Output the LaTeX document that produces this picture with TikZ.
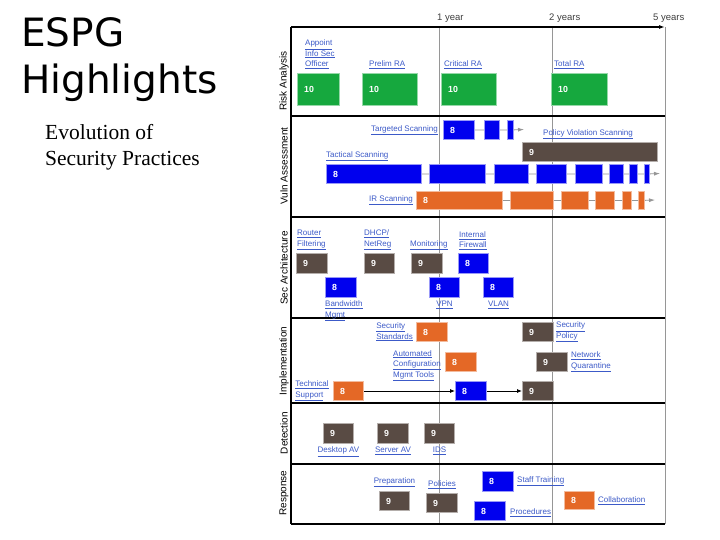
\documentclass[tikz,border=0pt]{standalone}
\usepackage{fontspec}
\setmainfont{Liberation Sans}
\newfontfamily\subfont{Liberation Serif}
\newfontfamily\titlefont{DejaVu Sans}
\usetikzlibrary{positioning, arrows.meta}

\definecolor{espgGreen}{RGB}{22,168,62}
\definecolor{espgBlue}{RGB}{0,0,238}
\definecolor{espgBrown}{RGB}{89,75,68}
\definecolor{espgOrange}{RGB}{228,104,38}
\definecolor{linkBlue}{RGB}{60,90,200}
\definecolor{gridGray}{RGB}{150,150,150}

\begin{document}
\begin{tikzpicture}[x=1pt, y=-1pt,
  box/.style={anchor=north west, minimum height=20pt, inner sep=0pt, line width=1pt},
  grn/.style={box, fill=espgGreen, draw=espgGreen!45, minimum height=32pt},
  blu/.style={box, fill=espgBlue, draw=espgBlue!40},
  brn/.style={box, fill=espgBrown, draw=espgBrown!45},
  org/.style={box, fill=espgOrange, draw=espgOrange!45},
  num/.style={anchor=west, xshift=7pt, inner sep=0pt, text=white,
    font=\bfseries\fontsize{8.8}{10}\selectfont},
  nb/.style={label={[num]west:#1}},
  lnk/.style={inner sep=0pt, align=left, text=linkBlue, font=\fontsize{8}{10.5}\selectfont},
  rowlbl/.style={rotate=90, inner sep=0pt, font=\fontsize{10}{12}\selectfont},
  yrlbl/.style={anchor=base west, inner sep=0pt, text=black!75, font=\fontsize{9.5}{11}\selectfont},
  sep/.style={draw=black, line width=1.3pt},
  grid/.style={draw=gridGray, line width=0.8pt},
  trk/.style={draw=gridGray, line width=0.8pt, -{Latex[length=6pt, width=4pt]}},
  seq/.style={draw=black, line width=0.8pt, -{Latex[length=5pt, width=4pt]}}
]
\useasboundingbox (0,0) rectangle (720,540);
\fill[white] (0,0) rectangle (720,540);

% title
\node[anchor=north west, inner sep=0pt, align=left, font=\titlefont\fontsize{39}{47}\selectfont] (title)
  at (21,17) {ESPG\\Highlights};
\node[anchor=north west, inner sep=0pt, align=left, font=\subfont\fontsize{21.5}{26}\selectfont] (subtitle)
  at (45,124) {Evolution of\\Security Practices};

% frame and time axis
\coordinate (o) at (291,27);
\coordinate (xend) at (665,27);
\coordinate (obot) at (291,524);
\coordinate (rbot) at (665,524);
\coordinate (y1top) at (439,27);
\coordinate (y1bot) at (439,524);
\coordinate (y2top) at (552,27);
\coordinate (y2bot) at (552,524);
\draw[grid] (y1top) -- (y1bot);
\draw[grid] (y2top) -- (y2bot);
\draw[grid] (xend) -- (rbot);
\foreach \yy in {116,217,318,403,464,524}
  \draw[sep] (291,\yy) -- (665,\yy);
\draw[line width=2pt] (o) -- (obot);
\draw[line width=1.3pt, -{Latex[length=6pt, width=4pt]}] (o) -- (xend);
\node[yrlbl] (yr1) at (437,21) {1 year};
\node[yrlbl] (yr2) at (549,21) {2 years};
\node[yrlbl] (yr5) at (653,21) {5 years};

% row titles
\node[rowlbl] (rRisk) at (284,81) {Risk Analysis};
\node[rowlbl] (rVuln) at (284,166) {Vuln Assessment};
\node[rowlbl] (rArch) at (284,268) {Sec Architecture};
\node[rowlbl] (rImpl) at (284,361) {Implementation};
\node[rowlbl] (rDet) at (284,433) {Detection};
\node[rowlbl] (rResp) at (284,493) {Response};

% risk analysis
\node[grn, nb=10, minimum width=42pt] (ra1) at (297,73) {};
\node[grn, nb=10, minimum width=55pt] (ra2) at (362,73) {};
\node[grn, nb=10, minimum width=55pt] (ra3) at (441,73) {};
\node[grn, nb=10, minimum width=56pt] (ra4) at (551,73) {};
\node[lnk, above right=4pt and 8pt of ra1.north west] (ra1Lbl)
  {\underline{Appoint}\\\underline{Info Sec}\\\underline{Officer}};
\node[lnk, above right=4pt and 7pt of ra2.north west] (ra2Lbl) {\underline{Prelim RA}};
\node[lnk, above right=4pt and 3pt of ra3.north west] (ra3Lbl) {\underline{Critical RA}};
\node[lnk, above right=4pt and 3pt of ra4.north west] (ra4Lbl) {\underline{Total RA}};

% vuln assessment
\node[blu, nb=8, minimum width=31pt, minimum height=19pt] (tgt1) at (443,120) {};
\node[blu, minimum width=15pt, minimum height=19pt] (tgt2) at (484,120) {};
\node[blu, minimum width=6pt, minimum height=19pt] (tgt3) at (507,120) {};
\coordinate (tgtEnd) at (524,129.5);
\draw[trk] (tgt1) -- (tgt2) -- (tgt3) -- (tgtEnd);
\node[lnk, left=5pt of tgt1] (tgtLbl) {\underline{Targeted Scanning}};

\node[brn, nb=9, minimum width=135pt, minimum height=19pt] (pvs) at (522,142) {};
\node[lnk, above right=3pt and 21pt of pvs.north west] (pvsLbl) {\underline{Policy Violation Scanning}};

\node[blu, nb=8, minimum width=95pt, minimum height=19pt] (tac1) at (326,164) {};
\node[blu, minimum width=56pt, minimum height=19pt] (tac2) at (429,164) {};
\node[blu, minimum width=34pt, minimum height=19pt] (tac3) at (494,164) {};
\node[blu, minimum width=30pt, minimum height=19pt] (tac4) at (536,164) {};
\node[blu, minimum width=27pt, minimum height=19pt] (tac5) at (575,164) {};
\node[blu, minimum width=14pt, minimum height=19pt] (tac6) at (609,164) {};
\node[blu, minimum width=8pt, minimum height=19pt] (tac7) at (629,164) {};
\node[blu, minimum width=5pt, minimum height=19pt] (tac8) at (644,164) {};
\coordinate (tacEnd) at (660,173.5);
\draw[trk] (tac1) -- (tac2) -- (tac3) -- (tac4) -- (tac5) -- (tac6) -- (tac7) -- (tac8) -- (tacEnd);
\node[lnk, above right=3pt and 0pt of tac1.north west] (tacLbl) {\underline{Tactical Scanning}};

\node[org, nb=8, minimum width=86pt, minimum height=18pt] (ir1) at (416,191) {};
\node[org, minimum width=43pt, minimum height=18pt] (ir2) at (510,191) {};
\node[org, minimum width=27pt, minimum height=18pt] (ir3) at (561,191) {};
\node[org, minimum width=19pt, minimum height=18pt] (ir4) at (595,191) {};
\node[org, minimum width=9pt, minimum height=18pt] (ir5) at (622,191) {};
\node[org, minimum width=6pt, minimum height=18pt] (ir6) at (638,191) {};
\coordinate (irEnd) at (655,200);
\draw[trk] (ir1) -- (ir2) -- (ir3) -- (ir4) -- (ir5) -- (ir6) -- (irEnd);
\node[lnk, left=3pt of ir1] (irLbl) {\underline{IR Scanning}};

% sec architecture
\node[brn, nb=9, minimum width=31pt] (rf) at (296,253) {};
\node[brn, nb=9, minimum width=30pt] (dhcp) at (364,253) {};
\node[brn, nb=9, minimum width=31pt] (mon) at (411,253) {};
\node[blu, nb=8, minimum width=30pt] (ifw) at (458,253) {};
\node[blu, nb=8, minimum width=31pt] (bw) at (325,277) {};
\node[blu, nb=8, minimum width=30pt] (vpn) at (429,277) {};
\node[blu, nb=8, minimum width=30pt] (vlan) at (483,277) {};
\node[lnk, above right=3pt and 1pt of rf.north west] (rfLbl) {\underline{Router}\\\underline{Filtering}};
\node[lnk, above right=3pt and 0pt of dhcp.north west] (dhcpLbl) {\underline{DHCP/}\\\underline{NetReg}};
\node[lnk, above right=3pt and -1pt of mon.north west] (monLbl) {\underline{Monitoring}};
\node[lnk, above right=3pt and 1pt of ifw.north west] (ifwLbl) {\underline{Internal}\\\underline{Firewall}};
\node[lnk, below right=3pt and 0pt of bw.south west] (bwLbl) {\underline{Bandwidth}\\\underline{Mgmt}};
\node[lnk, below=3pt of vpn] (vpnLbl) {\underline{VPN}};
\node[lnk, below=3pt of vlan] (vlanLbl) {\underline{VLAN}};

% implementation
\node[lnk] (tsupLbl) at (312,391) {\underline{Technical}\\\underline{Support}};
\node[org, nb=8, minimum width=31pt, minimum height=19pt] (ssd) at (416,322) {};
\node[brn, nb=9, minimum width=31pt, minimum height=19pt] (spol) at (522,322) {};
\node[org, nb=8, minimum width=31pt, minimum height=19pt] (acm) at (445,352) {};
\node[brn, nb=9, minimum width=31pt, minimum height=19pt] (nq) at (536,352) {};
\node[org, nb=8, minimum width=30pt, minimum height=19pt] (tsup) at (333,381) {};
\node[blu, nb=8, minimum width=31pt, minimum height=19pt] (imp8) at (455,381) {};
\node[brn, nb=9, minimum width=31pt, minimum height=19pt] (imp9) at (522,381) {};
\draw[seq] (tsup) -- (imp8);
\draw[seq] (imp8) -- (imp9);
\node[lnk, left=3pt of ssd] (ssdLbl) {\underline{Security}\\\underline{Standards}};
\node[lnk, right=2pt of spol] (spolLbl) {\underline{Security}\\\underline{Policy}};
\node[lnk, left=4pt of acm, yshift=-3.5pt] (acmLbl)
  {\underline{Automated}\\\underline{Configuration}\\\underline{Mgmt Tools}};
\node[lnk, right=3pt of nq] (nqLbl) {\underline{Network}\\\underline{Quarantine}};

% detection
\node[brn, nb=9, minimum width=30pt] (dav) at (323,423) {};
\node[brn, nb=9, minimum width=31pt] (sav) at (377,423) {};
\node[brn, nb=9, minimum width=30pt] (ids) at (424,423) {};
\node[lnk, below=3pt of dav] (davLbl) {\underline{Desktop AV}};
\node[lnk, below=3pt of sav] (savLbl) {\underline{Server AV}};
\node[lnk, below=3pt of ids] (idsLbl) {\underline{IDS}};

% response
\node[brn, nb=9, minimum width=30pt, minimum height=19pt] (prep) at (379,491) {};
\node[brn, nb=9, minimum width=31pt, minimum height=19pt] (pol) at (426,493) {};
\node[blu, nb=8, minimum width=31pt] (stf) at (482,471) {};
\node[blu, nb=8, minimum width=31pt, minimum height=19pt] (proc) at (474,501) {};
\node[org, nb=8, minimum width=30pt, minimum height=18pt] (col) at (564,491) {};
\node[lnk, above=4pt of prep] (prepLbl) {\underline{Preparation}};
\node[lnk, above=4pt of pol] (polLbl) {\underline{Policies}};
\node[lnk, right=3pt of stf] (stfLbl) {\underline{Staff Training}};
\node[lnk, right=4pt of proc, yshift=-1.5pt] (procLbl) {\underline{Procedures}};
\node[lnk, right=3pt of col] (colLbl) {\underline{Collaboration}};
\end{tikzpicture}
\end{document}
